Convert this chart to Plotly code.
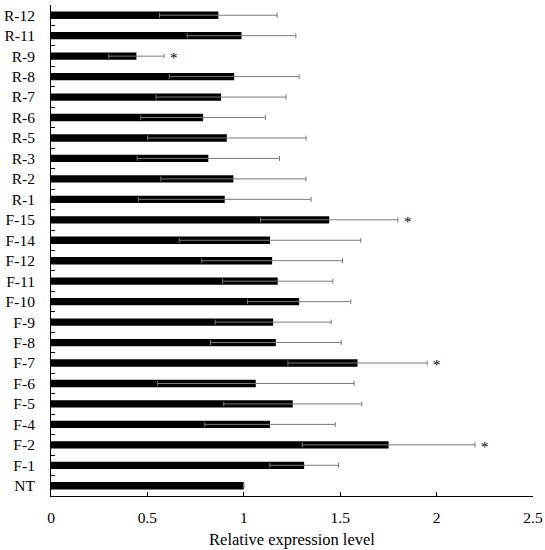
import plotly.graph_objects as go

# categories bottom -> top
lines = ['NT', 'F-1', 'F-2', 'F-4', 'F-5', 'F-6', 'F-7', 'F-8', 'F-9', 'F-10',
         'F-11', 'F-12', 'F-14', 'F-15', 'R-1', 'R-2', 'R-3', 'R-5', 'R-6',
         'R-7', 'R-8', 'R-9', 'R-11', 'R-12']
expr = [1.0, 1.313, 1.751, 1.136, 1.254, 1.062, 1.590, 1.166, 1.152, 1.287,
        1.176, 1.147, 1.136, 1.443, 0.901, 0.946, 0.816, 0.912, 0.789,
        0.882, 0.950, 0.443, 0.988, 0.868]
sd = [None, 0.178, 0.448, 0.338, 0.358, 0.510, 0.361, 0.339, 0.301, 0.268,
      0.286, 0.365, 0.471, 0.356, 0.448, 0.376, 0.369, 0.411, 0.323,
      0.337, 0.337, 0.143, 0.282, 0.305]
signif = ['F-2', 'F-7', 'F-15', 'R-9']

FONT = 'Liberation Serif'

fig = go.Figure()
fig.add_trace(go.Bar(
    x=expr, y=lines, orientation='h',
    marker=dict(color='black', line=dict(width=0)),
    error_x=dict(type='data', array=sd, symmetric=True,
                 color='#7a7a7a', thickness=1, width=2.5),
    showlegend=False,
))

# asterisks for significant lines
for name in signif:
    i = lines.index(name)
    fig.add_annotation(x=expr[i] + sd[i], y=name, text='*', showarrow=False,
                       xanchor='left', xshift=4, yshift=-2,
                       font=dict(family=FONT, size=15, color='black'))

fig.update_layout(
    width=545, height=550,
    margin=dict(l=51, r=12, t=5, b=54),
    plot_bgcolor='white', paper_bgcolor='white',
    bargap=0.64,
    font=dict(family=FONT, size=15.5, color='black'),
)
fig.update_xaxes(
    range=[0, 2.5], tickvals=[0, 0.5, 1, 1.5, 2, 2.5],
    ticktext=['0', '0.5', '1', '1.5', '2', '2.5'],
    showgrid=False, zeroline=False, automargin=False,
    showline=True, linecolor='black', linewidth=1,
    ticks='inside', ticklen=4, tickcolor='black',
    ticklabelstandoff=7,
    title=dict(text='Relative expression level', standoff=8,
               font=dict(family=FONT, size=16.5)),
)
fig.update_yaxes(
    type='category', showgrid=False, zeroline=False, automargin=False,
    showline=True, linecolor='black', linewidth=1,
    ticks='inside', ticklen=4, tickcolor='black', tickson='boundaries',
    ticklabelstandoff=12,
)

# page body has a default margin; drop it so the figure sits at 0,0
fig.write_html('out.html', config={'displayModeBar': False},
               post_script="document.body.style.margin='0';")
